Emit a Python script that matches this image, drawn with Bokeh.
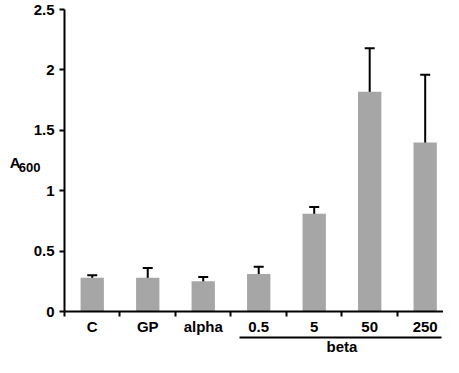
from bokeh.plotting import figure
from bokeh.models import (Range1d, FixedTicker, LinearAxis, Whisker, TeeHead,
                          ColumnDataSource)
from bokeh.embed import file_html
from bokeh.resources import INLINE

# ---- data ----
categories = ["C", "GP", "alpha", "0.5", "5", "50", "250"]
means = [0.28, 0.28, 0.25, 0.31, 0.81, 1.82, 1.40]
err_low = [0.25, 0.21, 0.22, 0.25, 0.75, 1.46, 0.85]
err_high = [0.30, 0.36, 0.285, 0.37, 0.865, 2.18, 1.96]
y_ticks = [0, 0.5, 1, 1.5, 2, 2.5]
y_tick_labels = ["0", "0.5", "1", "1.5", "2", "2.5"]
group_members = ["0.5", "5", "50", "250"]
group_label = "beta"
y_title = "A"
y_title_sub = "600"
y_title_pos = 1.23
y_title_sub_pos = 1.19

FONT = "Liberation Sans"
n = len(categories)
centers = [i + 0.5 for i in range(n)]
x_end = n - 0.17

src = ColumnDataSource(dict(x=centers, top=means, lower=err_low, upper=err_high))

p = figure(width=443, height=357, output_backend="svg", toolbar_location=None,
           x_range=Range1d(0, x_end), y_range=Range1d(0, 2.5),
           min_border_left=64, min_border_right=0, min_border_top=9,
           min_border_bottom=42, x_axis_type=None, y_axis_type=None)
p.outline_line_color = None
p.background_fill_color = "white"
p.border_fill_color = "white"


def style_labels(ax, size="15px"):
    ax.axis_label = None
    ax.axis_label_standoff = 0
    ax.major_label_text_font = FONT
    ax.major_label_text_font_style = "bold"
    ax.major_label_text_font_size = size
    ax.major_label_text_color = "black"


def bare_axis(ax):
    ax.axis_line_color = None
    ax.major_tick_line_color = None
    ax.minor_tick_line_color = None
    ax.major_tick_in = 0
    ax.major_tick_out = 0
    ax.minor_tick_in = 0
    ax.minor_tick_out = 0


# y axis
yax = LinearAxis(ticker=FixedTicker(ticks=y_ticks, minor_ticks=[]),
                 major_label_overrides={float(t): s for t, s in zip(y_ticks, y_tick_labels)})
yax.axis_line_width = 2
yax.axis_line_color = "black"
yax.major_tick_line_width = 2
yax.major_tick_line_color = "black"
yax.major_tick_in = 0
yax.major_tick_out = 5
yax.minor_tick_line_color = None
style_labels(yax)
yax.major_label_standoff = 5
p.add_layout(yax, "left")

# y title: subscript "600" (nearer) and "A" (further left)
sax = LinearAxis(ticker=FixedTicker(ticks=[y_title_sub_pos], minor_ticks=[]),
                 major_label_overrides={float(y_title_sub_pos): y_title_sub})
bare_axis(sax)
style_labels(sax, "13px")
sax.major_label_standoff = -10
p.add_layout(sax, "left")

tax = LinearAxis(ticker=FixedTicker(ticks=[y_title_pos], minor_ticks=[]),
                 major_label_overrides={float(y_title_pos): y_title})
bare_axis(tax)
style_labels(tax, "15px")
tax.major_label_standoff = -5
p.add_layout(tax, "left")

# x axis (category labels at centers, ticks at boundaries)
xax = LinearAxis(ticker=FixedTicker(ticks=centers, minor_ticks=list(range(n))),
                 major_label_overrides={float(c): s for c, s in zip(centers, categories)})
xax.axis_line_width = 2
xax.axis_line_color = "black"
xax.major_tick_in = 0
xax.major_tick_out = 0
xax.major_tick_line_color = None
xax.minor_tick_in = 0
xax.minor_tick_out = 5
xax.minor_tick_line_width = 2
xax.minor_tick_line_color = "black"
style_labels(xax)
xax.major_label_standoff = 1
p.add_layout(xax, "below")

# group axis (beta) with a line spanning its members
i0 = categories.index(group_members[0])
grp_center = sum(centers[categories.index(g)] for g in group_members) / len(group_members)
bax = LinearAxis(ticker=FixedTicker(ticks=[grp_center], minor_ticks=[]),
                 bounds=(i0 + 0.15, x_end - 0.03),
                 major_label_overrides={float(grp_center): group_label})
bare_axis(bax)
bax.axis_line_width = 2
bax.axis_line_color = "black"
style_labels(bax)
bax.major_label_standoff = 0
p.add_layout(bax, "below")

# bars
p.vbar(x="x", top="top", bottom=0, width=0.42, source=src,
       fill_color="#a6a6a6", line_color=None)

# error bars
w = Whisker(source=src, base="x", upper="upper", lower="lower",
            line_width=2, line_color="black",
            upper_head=TeeHead(size=10, line_width=2, line_color="black"),
            lower_head=TeeHead(size=10, line_width=2, line_color="black"))
p.add_layout(w)

open("out.html", "w").write(file_html(p, INLINE))
